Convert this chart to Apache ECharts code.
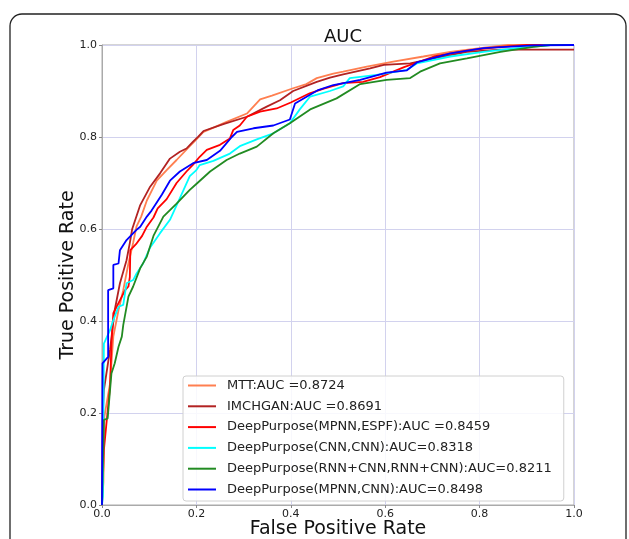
<!DOCTYPE html>
<html>
<head>
<meta charset="utf-8">
<script src="https://cdn.jsdelivr.net/npm/echarts@6/dist/echarts.min.js"></script>
<style>html,body{margin:0;padding:0;background:#fff}#c{width:629px;height:539px}</style>
</head>
<body>
<div id="c"></div>
<script>
const tickLabels = ['0.0','0.2','0.4','0.6','0.8','1.0'];
const seriesNames = [
  'MTT:AUC =0.8724',
  'IMCHGAN:AUC =0.8691',
  'DeepPurpose(MPNN,ESPF):AUC =0.8459',
  'DeepPurpose(CNN,CNN):AUC=0.8318',
  'DeepPurpose(RNN+CNN,RNN+CNN):AUC=0.8211',
  'DeepPurpose(MPNN,CNN):AUC=0.8498'
];
const seriesColors = ['#FF7F50','#B22222','#FF0000','#00FFFF','#228B22','#0000FF'];

const rocMTT = [[0,0],[0.003,0.05],[0.005,0.192],[0.017,0.264],[0.024,0.366],[0.035,0.424],[0.045,0.467],[0.056,0.525],[0.066,0.57],[0.073,0.605],[0.083,0.627],[0.095,0.662],[0.116,0.705],[0.137,0.728],[0.158,0.75],[0.186,0.78],[0.2,0.795],[0.215,0.811],[0.24,0.822],[0.264,0.833],[0.307,0.851],[0.335,0.882],[0.36,0.89],[0.405,0.906],[0.433,0.915],[0.455,0.928],[0.49,0.938],[0.511,0.942],[0.561,0.953],[0.617,0.964],[0.681,0.975],[0.738,0.985],[0.801,0.993],[0.86,1.0],[1,1]];
const rocIMCHGAN = [[0,0],[0.002,0.207],[0.004,0.25],[0.017,0.337],[0.027,0.424],[0.038,0.482],[0.052,0.532],[0.059,0.57],[0.064,0.6],[0.081,0.652],[0.102,0.692],[0.123,0.721],[0.144,0.753],[0.165,0.768],[0.179,0.775],[0.193,0.79],[0.204,0.801],[0.215,0.813],[0.257,0.828],[0.307,0.844],[0.349,0.866],[0.377,0.88],[0.405,0.9],[0.455,0.92],[0.483,0.929],[0.511,0.936],[0.568,0.949],[0.597,0.957],[0.653,0.96],[0.703,0.971],[0.773,0.985],[0.844,0.99],[1,0.99]];
const rocESPF = [[0,0],[0.004,0.12],[0.017,0.257],[0.02,0.35],[0.024,0.417],[0.031,0.431],[0.042,0.453],[0.049,0.467],[0.056,0.475],[0.059,0.496],[0.06,0.554],[0.072,0.567],[0.085,0.585],[0.095,0.605],[0.109,0.625],[0.118,0.645],[0.137,0.665],[0.158,0.7],[0.179,0.725],[0.193,0.74],[0.207,0.757],[0.222,0.772],[0.25,0.783],[0.271,0.797],[0.278,0.815],[0.292,0.825],[0.307,0.844],[0.335,0.855],[0.37,0.862],[0.4,0.875],[0.44,0.895],[0.47,0.905],[0.511,0.917],[0.553,0.92],[0.589,0.93],[0.64,0.952],[0.703,0.975],[0.773,0.988],[0.844,0.996],[0.9,1.0],[1,1]];
const rocCNN = [[0,0],[0.002,0.02],[0.004,0.351],[0.017,0.38],[0.024,0.402],[0.035,0.431],[0.045,0.435],[0.052,0.482],[0.066,0.489],[0.073,0.503],[0.087,0.525],[0.102,0.56],[0.123,0.591],[0.144,0.62],[0.165,0.667],[0.186,0.715],[0.2,0.728],[0.207,0.739],[0.236,0.748],[0.271,0.764],[0.292,0.78],[0.328,0.795],[0.363,0.808],[0.398,0.83],[0.419,0.86],[0.441,0.888],[0.483,0.9],[0.511,0.91],[0.525,0.928],[0.582,0.935],[0.646,0.946],[0.667,0.96],[0.738,0.975],[0.808,0.985],[0.879,0.993],[0.95,1.0],[1,1]];
const rocRNN = [[0,0],[0.003,0.003],[0.004,0.185],[0.012,0.188],[0.02,0.286],[0.027,0.308],[0.035,0.344],[0.042,0.366],[0.045,0.391],[0.056,0.453],[0.066,0.475],[0.081,0.515],[0.095,0.54],[0.109,0.585],[0.13,0.627],[0.158,0.655],[0.186,0.685],[0.201,0.699],[0.229,0.725],[0.264,0.75],[0.292,0.764],[0.328,0.779],[0.363,0.808],[0.398,0.83],[0.441,0.86],[0.497,0.884],[0.547,0.915],[0.603,0.924],[0.653,0.928],[0.674,0.942],[0.716,0.96],[0.773,0.971],[0.844,0.985],[0.914,0.996],[0.95,1.0],[1,1]];
const rocMPNNCNN = [[0,0],[0.001,0.308],[0.013,0.322],[0.013,0.467],[0.024,0.471],[0.024,0.522],[0.035,0.525],[0.038,0.554],[0.052,0.576],[0.073,0.598],[0.081,0.605],[0.095,0.627],[0.105,0.64],[0.127,0.675],[0.144,0.705],[0.165,0.725],[0.193,0.743],[0.222,0.75],[0.25,0.77],[0.275,0.8],[0.286,0.811],[0.321,0.819],[0.363,0.825],[0.398,0.838],[0.409,0.873],[0.458,0.902],[0.49,0.913],[0.547,0.924],[0.603,0.94],[0.646,0.945],[0.667,0.962],[0.738,0.982],[0.808,0.993],[0.914,0.999],[1,1]];

const allData = [rocMTT, rocIMCHGAN, rocESPF, rocCNN, rocRNN, rocMPNNCNN];
const FONT = 'DejaVu Sans';

const chart = echarts.init(document.getElementById('c'), null, {renderer:'canvas'});
const axisCommon = {
  type: 'value', min: 0, max: 1, interval: 0.2,
  axisLine: {show: true, lineStyle: {color: '#aaaaaa', width: 1}},
  axisTick: {show: true, length: 3, lineStyle: {color: '#888'}},
  splitLine: {show: true, lineStyle: {color: '#d2d2ee', width: 1}},
  axisLabel: {color: '#222', fontFamily: FONT, fontSize: 11,
    formatter: v => tickLabels[Math.round(v / 0.2)]},
  nameLocation: 'middle',
  nameMoveOverlap: false,
  nameTextStyle: {color: '#111', fontFamily: FONT, fontSize: 19}
};
chart.setOption({
  animation: false,
  backgroundColor: '#fff',
  title: {text: 'AUC', left: 338, top: 23, textAlign: 'center',
    textStyle: {fontFamily: FONT, fontSize: 18, fontWeight: 'normal', color: '#111'}},
  grid: {left: 102, top: 45, width: 472, height: 460, show: true, borderColor: '#aaaaaa', borderWidth: 1,
    containLabel: false, outerBoundsMode: 'none'},
  xAxis: Object.assign({}, axisCommon, {name: 'False Positive Rate', nameGap: 15,
    axisLabel: Object.assign({}, axisCommon.axisLabel, {margin: 4})}),
  yAxis: Object.assign({}, axisCommon, {name: 'True Positive Rate', nameGap: 24,
    axisLabel: Object.assign({}, axisCommon.axisLabel, {margin: 5})}),
  legend: {
    orient: 'vertical', left: 183, top: 376,
    itemWidth: 28, itemHeight: 14, itemGap: 7.8,
    padding: [3, 12, 5, 4],
    backgroundColor: 'rgba(255,255,255,0.85)',
    borderColor: '#d0d0d0', borderWidth: 1, borderRadius: 3,
    itemStyle: {opacity: 0},
    textStyle: {fontFamily: FONT, fontSize: 13, color: '#222', padding: [0,0,0,6]},
    data: seriesNames
  },
  graphic: [{type: 'rect', shape: {x: 10, y: 14, width: 616, height: 600, r: 12},
    style: {fill: 'none', stroke: '#222', lineWidth: 1.3}, silent: true, z: 100}],
  series: seriesNames.map((n, i) => ({
    name: n, type: 'line', data: allData[i], symbol: 'none', showSymbol: false,
    color: seriesColors[i],
    lineStyle: {color: seriesColors[i], width: 1.8},
    z: 2 + i
  }))
});
</script>
</body>
</html>
